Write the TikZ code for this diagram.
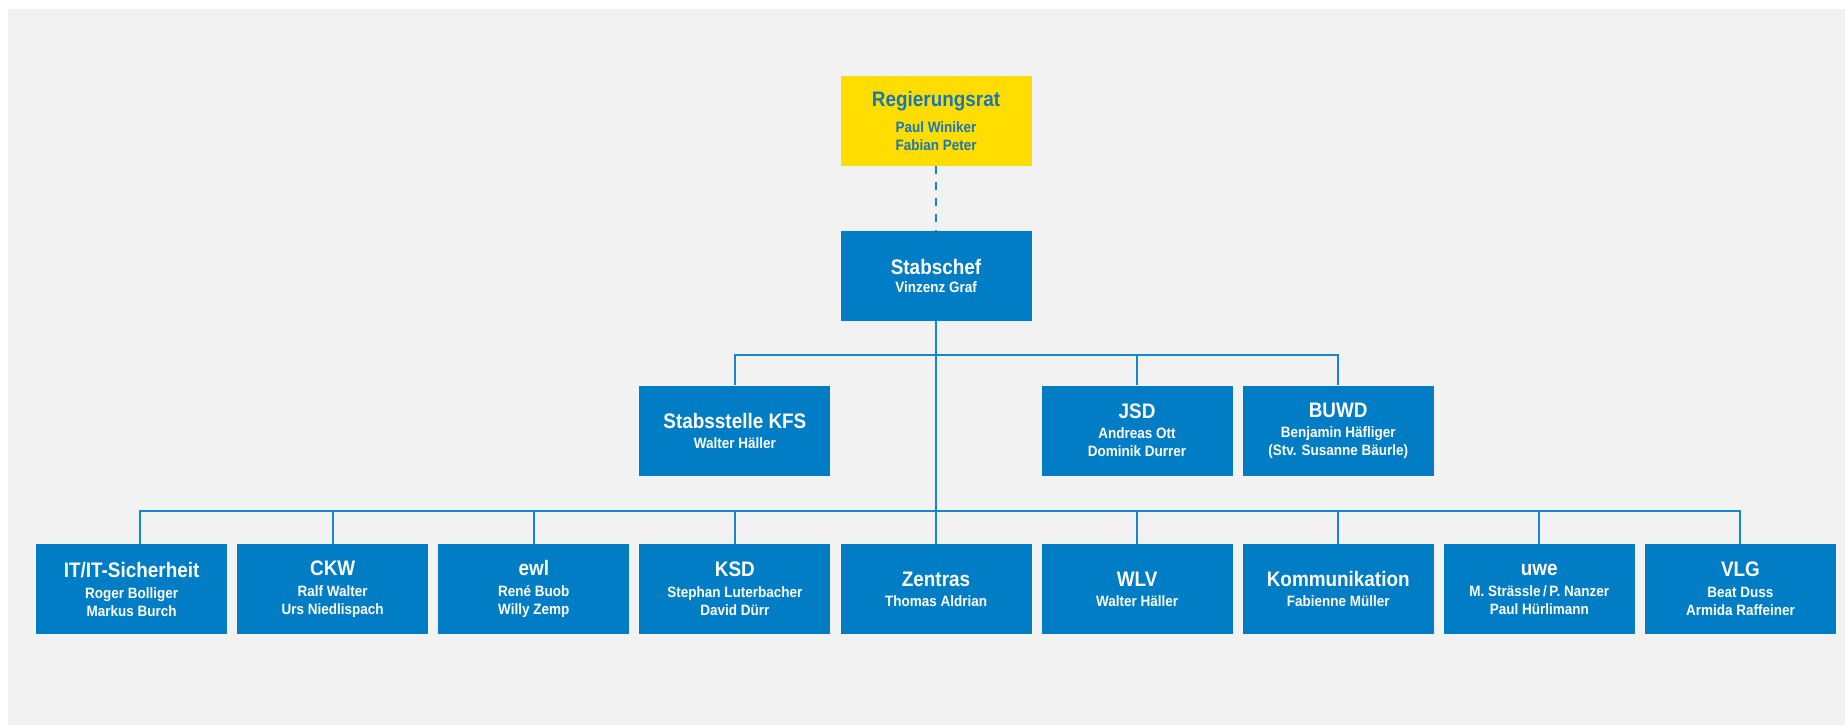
\documentclass[tikz,border=0pt]{standalone}
\usepackage{fontspec}
\newfontfamily\orgfont{Liberation Sans}[FakeStretch=0.9]
\definecolor{orgblue}{RGB}{0,125,196}
\definecolor{lineblue}{RGB}{20,135,205}
\definecolor{orgyellow}{RGB}{255,221,0}
\definecolor{yelltext}{RGB}{25,120,180}
\definecolor{bggrey}{RGB}{242,242,242}
\newcommand{\ttl}[1]{{\fontsize{10.5pt}{12pt}\selectfont #1}}
\tikzset{
  unit/.style={draw=none, fill=orgblue, text=white, minimum width=95.5pt,
    minimum height=45pt, inner sep=0pt, align=center,
    font=\orgfont\bfseries\fontsize{7.5pt}{9pt}\selectfont},
  topunit/.style={unit, fill=orgyellow, text=yelltext},
  conn/.style={draw=lineblue, line width=1pt},
  dashconn/.style={draw=lineblue, line width=0.8pt, dash pattern=on 4pt off 4pt}
}
\begin{document}
\begin{tikzpicture}[x=0.5pt,y=-0.5pt]
\useasboundingbox (0,0) rectangle (1845,725);
\fill[white] (0,0) rectangle (1845,725);
\fill[bggrey] (8,9) rectangle (1845,725);

% top
\node[topunit] (reg) at (936,121) {\ttl{Regierungsrat}\\[4pt]Paul Winiker\\Fabian Peter};
\node[unit] (stab) at (936,276) {\ttl{Stabschef}\\Vinzenz Graf};

% middle row
\node[unit] (kfs)  at (734.9,430.5) {\ttl{Stabsstelle KFS}\\[1pt]Walter Häller};
\node[unit] (jsd)  at (1137.1,430.5) {\ttl{JSD}\\[1pt]Andreas Ott\\Dominik Durrer};
\node[unit] (buwd) at (1338.2,430.5) {\ttl{BUWD}\\[1pt]Benjamin Häfliger\\(Stv. Susanne Bäurle)};

% bottom row
\node[unit] (it)   at (131.6,589) {\ttl{IT/IT-Sicherheit}\\[1.5pt]Roger Bolliger\\Markus Burch};
\node[unit] (ckw)  at (332.7,589) {\ttl{CKW}\\[1.5pt]Ralf Walter\\Urs Niedlispach};
\node[unit] (ewl)  at (533.8,589) {\ttl{ewl}\\[1.5pt]René Buob\\Willy Zemp};
\node[unit] (ksd)  at (734.9,589) {\ttl{KSD}\\[1.5pt]Stephan Luterbacher\\David Dürr};
\node[unit] (zen)  at (936,589) {\ttl{Zentras}\\[1pt]Thomas Aldrian};
\node[unit] (wlv)  at (1137.1,589) {\ttl{WLV}\\[1pt]Walter Häller};
\node[unit] (kom)  at (1338.2,589) {\ttl{Kommunikation}\\[1pt]Fabienne Müller};
\node[unit] (uwe)  at (1539.3,589) {\ttl{uwe}\\[1.5pt]M. Strässle\,/\,P. Nanzer\\Paul Hürlimann};
\node[unit] (vlg)  at (1740.4,589) {\ttl{VLG}\\[1.5pt]Beat Duss\\Armida Raffeiner};

% bus coordinates
\coordinate (bustwo) at (936,355);
\coordinate (busthree) at (936,511);

% connectors
\draw[dashconn] (reg.south) -- (stab.north);
\draw[conn] (stab.south) -- (zen.north);
\draw[conn] (kfs.north) |- (bustwo) -| (buwd.north);
\draw[conn] (jsd.north) -- (jsd.north |- bustwo);
\draw[conn] ([xshift=4.2pt]it.north) |- (busthree) -| (vlg.north);
\foreach \n in {ckw,ewl,ksd,wlv,kom,uwe}
  \draw[conn] (\n.north) -- (\n.north |- busthree);
\end{tikzpicture}
\end{document}
